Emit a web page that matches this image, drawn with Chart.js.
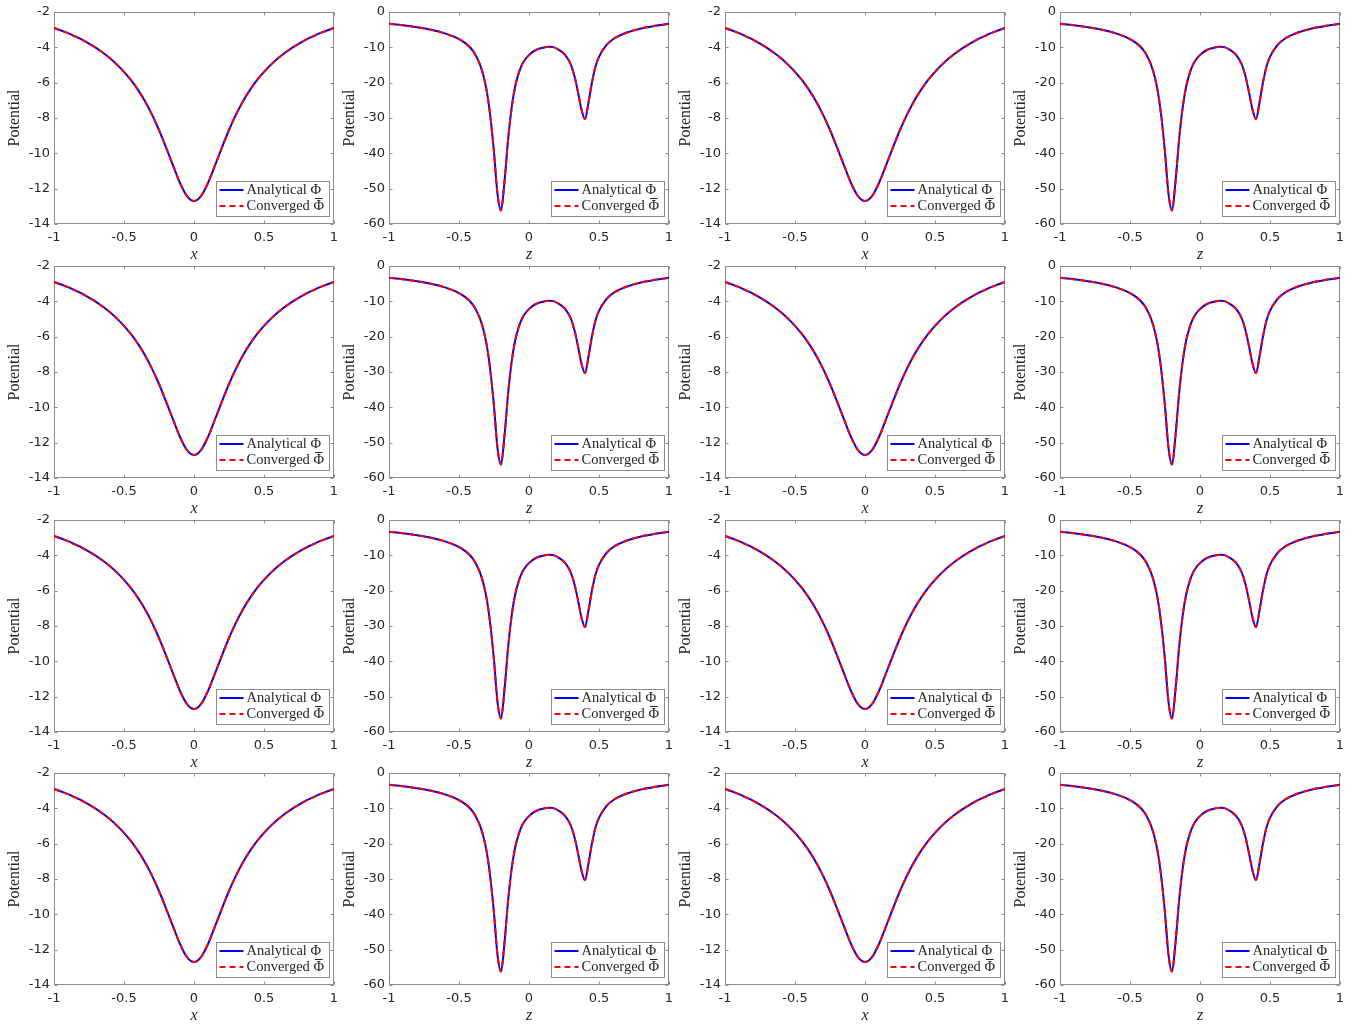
<!DOCTYPE html>
<html lang="en">
<head>
<meta charset="UTF-8">
<title>Potential profiles</title>
<style>
  body { margin: 0; background: #fff; }
  #grid { position: relative; width: 1351px; height: 1024px; }
  #grid canvas { position: absolute; }
</style>
<script src="https://cdn.jsdelivr.net/npm/chart.js"></script>
</head>
<body>
<div id="grid"></div>
<script>
// profile along x (single well)
const xGrid = [-1, -0.95, -0.9, -0.85, -0.8, -0.75, -0.7, -0.65, -0.6, -0.55, -0.5,
  -0.45, -0.4, -0.35, -0.3, -0.25, -0.2, -0.15, -0.1, -0.05, 0,
  0.05, 0.1, 0.15, 0.2, 0.25, 0.3, 0.35, 0.4, 0.45, 0.5,
  0.55, 0.6, 0.65, 0.7, 0.75, 0.8, 0.85, 0.9, 0.95, 1];
const phiX = [-2.90, -3.05, -3.20, -3.38, -3.57, -3.79, -4.03, -4.31, -4.62, -4.98, -5.39,
  -5.86, -6.41, -7.05, -7.81, -8.68, -9.66, -10.68, -11.68, -12.42, -12.70,
  -12.42, -11.68, -10.68, -9.66, -8.68, -7.81, -7.05, -6.41, -5.86, -5.39,
  -4.98, -4.62, -4.31, -4.03, -3.79, -3.57, -3.38, -3.20, -3.05, -2.90];

// profile along z (two wells)
const zGrid = [-1, -0.9, -0.8, -0.7, -0.6, -0.55, -0.5, -0.45, -0.4, -0.375, -0.35,
  -0.325, -0.3, -0.275, -0.25, -0.225, -0.2, -0.175, -0.15, -0.125, -0.1,
  -0.075, -0.05, -0.025, 0, 0.025, 0.05, 0.075, 0.1, 0.125, 0.15, 0.175, 0.2,
  0.25, 0.275, 0.3, 0.325, 0.35, 0.375, 0.4, 0.425, 0.45, 0.475,
  0.5, 0.55, 0.6, 0.65, 0.7, 0.8, 0.9, 1];
const phiZ = [-3.30, -3.75, -4.32, -5.05, -6.05, -6.75, -7.65, -8.95, -11.0, -12.7, -14.9,
  -18.1, -22.8, -30.0, -39.7, -51.5, -56.2, -48.0, -36.4, -27.4, -21.3,
  -17.5, -14.9, -13.3, -12.2, -11.35, -10.75, -10.35, -10.1, -9.93, -9.85, -9.95, -10.4,
  -11.8, -13.1, -15.0, -18.2, -22.7, -27.6, -30.3, -25.6, -19.9, -15.4,
  -12.7, -9.5, -7.7, -6.6, -5.8, -4.65, -3.92, -3.35];

const xTicks = [-1, -0.5, 0, 0.5, 1];
const yTicksX = [-14, -12, -10, -8, -6, -4, -2];
const yTicksZ = [-60, -50, -40, -30, -20, -10, 0];
const legendLabels = ['Analytical \u03A6', 'Converged \u03A6\u0304'];

const colLeft = [0, 335, 671, 1006];
const rowTop = [0, 254, 508, 761];
const W = 345, H = 270;

const textColor = '#262626';
const MACRON = '\u0304';

// axes box with inward ticks on all four sides
const framePlugin = {
  id: 'frame',
  beforeDatasetsDraw(chart) {
    const {ctx, chartArea: a, scales} = chart;
    const l = Math.round(a.left) + 0.5, r = Math.round(a.right) - 0.5;
    const t = Math.round(a.top) + 0.5, b = Math.round(a.bottom) - 0.5;
    ctx.save();
    ctx.strokeStyle = '#8c8c8c';
    ctx.lineWidth = 1;
    ctx.strokeRect(l, t, r - l, b - t);
    ctx.beginPath();
    scales.x.ticks.forEach(tk => {
      const px = Math.round(scales.x.getPixelForValue(tk.value)) + 0.5;
      ctx.moveTo(px, b); ctx.lineTo(px, b - 3);
      ctx.moveTo(px, t); ctx.lineTo(px, t + 3);
    });
    scales.y.ticks.forEach(tk => {
      const py = Math.round(scales.y.getPixelForValue(tk.value)) + 0.5;
      ctx.moveTo(l, py); ctx.lineTo(l + 3, py);
      ctx.moveTo(r, py); ctx.lineTo(r - 3, py);
    });
    ctx.stroke();
    ctx.restore();
  }
};

// legend box in the lower right corner of the plot area
const legendPlugin = {
  id: 'cornerLegend',
  afterDatasetsDraw(chart) {
    const {ctx, chartArea: a} = chart;
    const sets = chart.data.datasets;
    ctx.save();
    ctx.font = '14.5px "Liberation Serif"';
    const plain = s => s.replace(MACRON, '');
    const tw = Math.max(...sets.map(d => ctx.measureText(plain(d.label)).width));
    const bw = Math.round(31 + tw + 4), bh = 35;
    const bx = Math.round(a.right - 5 - bw) + 0.5, by = Math.round(a.bottom - 8 - bh) + 0.5;
    ctx.fillStyle = '#fff';
    ctx.fillRect(bx, by, bw, bh);
    ctx.strokeStyle = '#8c8c8c';
    ctx.lineWidth = 1;
    ctx.strokeRect(bx, by, bw, bh);
    sets.forEach((d, i) => {
      const y = by + 8.5 + i * 16;
      ctx.strokeStyle = d.borderColor;
      ctx.lineWidth = 2;
      ctx.setLineDash(d.borderDash || []);
      ctx.beginPath();
      ctx.moveTo(bx + 3, y);
      ctx.lineTo(bx + 27, y);
      ctx.stroke();
      ctx.setLineDash([]);
      ctx.fillStyle = textColor;
      ctx.textBaseline = 'middle';
      const txt = plain(d.label);
      ctx.fillText(txt, bx + 30, y);
      if (d.label.endsWith(MACRON)) {
        // bar over the last glyph
        const full = ctx.measureText(txt).width;
        const last = ctx.measureText(txt.slice(-1)).width;
        const x0 = bx + 30 + full - last;
        ctx.fillRect(x0 + 1.5, y - 8, last - 3, 1);
      }
    });
    ctx.restore();
  }
};

function makePanel(row, col) {
  const isZ = col % 2 === 1;
  const xs = isZ ? zGrid : xGrid;
  const ys = isZ ? phiZ : phiX;
  const yTicks = isZ ? yTicksZ : yTicksX;
  const pts = xs.map((v, i) => ({x: v, y: ys[i]}));

  const canvas = document.createElement('canvas');
  canvas.width = W;
  canvas.height = H;
  canvas.style.left = colLeft[col] + 'px';
  canvas.style.top = rowTop[row] + 'px';
  document.getElementById('grid').appendChild(canvas);

  new Chart(canvas, {
    type: 'line',
    data: {
      datasets: [{
        label: legendLabels[0],
        data: pts,
        borderColor: '#0000ff',
        borderWidth: 2,
        order: 1
      }, {
        label: legendLabels[1],
        data: pts,
        borderColor: '#ff0000',
        borderWidth: 2,
        borderDash: [6, 4],
        order: 0
      }]
    },
    options: {
      responsive: false,
      animation: false,
      devicePixelRatio: 1,
      elements: {
        point: { radius: 0 },
        line: { cubicInterpolationMode: 'monotone', fill: false }
      },
      layout: { padding: { top: 12, right: 11, left: 0, bottom: 0 } },
      plugins: { legend: { display: false }, tooltip: { enabled: false } },
      scales: {
        x: {
          type: 'linear',
          min: -1,
          max: 1,
          afterBuildTicks: ax => { ax.ticks = xTicks.map(v => ({value: v})); },
          afterFit: ax => { ax.height = 46; ax.paddingLeft = 0; ax.paddingRight = 0; },
          grid: { display: false, drawTicks: false },
          border: { display: false },
          ticks: {
            color: textColor, font: { family: 'DejaVu Sans', size: 13 }, padding: 6, maxRotation: 0,
            callback: v => String(v)
          },
          title: {
            display: true,
            text: isZ ? 'z' : 'x',
            color: textColor,
            font: { family: 'Liberation Serif', size: 16, style: 'italic' },
            padding: { top: 0, bottom: 6 }
          }
        },
        y: {
          min: yTicks[0],
          max: yTicks[yTicks.length - 1],
          afterBuildTicks: ax => { ax.ticks = yTicks.map(v => ({value: v})); },
          afterFit: ax => { ax.width = 54; ax.paddingTop = 0; ax.paddingBottom = 0; },
          grid: { display: false, drawTicks: false },
          border: { display: false },
          ticks: {
            color: textColor, font: { family: 'DejaVu Sans', size: 13 }, padding: 4,
            callback: v => String(v)
          },
          title: {
            display: true,
            text: 'Potential',
            color: textColor,
            font: { family: 'Liberation Serif', size: 16 },
            padding: { top: 5, bottom: 0 }
          }
        }
      }
    },
    plugins: [framePlugin, legendPlugin]
  });
}

for (let r = 0; r < 4; r++) {
  for (let c = 0; c < 4; c++) makePanel(r, c);
}
</script>
</body>
</html>
